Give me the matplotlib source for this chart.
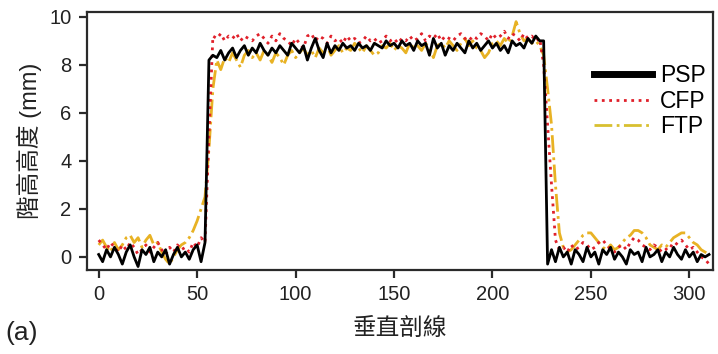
import numpy as np
import matplotlib
matplotlib.use("Agg")
import matplotlib.pyplot as plt
from matplotlib.lines import Line2D

plt.rcParams['font.family'] = ['Liberation Sans', 'Noto Sans CJK TC']

# ===== DATA =====
# sample positions along the vertical profile (every 2 units)
x = np.arange(0, 312, 2)

psp = [
    # 0..54
    0.1, -0.2, 0.3, 0.0, 0.4, 0.1, -0.3, 0.2, 0.5, 0.0,
    -0.4, 0.3, 0.1, 0.4, -0.2, 0.2, 0.0, 0.3, -0.3, 0.1,
    0.4, 0.0, 0.2, -0.1, 0.3, 0.5, -0.2, 0.6,
    # 56..226
    8.2, 8.4, 8.3, 8.6, 8.2, 8.5, 8.7, 8.3, 8.6, 8.8,
    8.4, 8.7, 8.5, 8.9, 8.6, 8.4, 8.7, 8.5, 8.8, 8.6,
    8.4, 8.9, 8.7, 8.5, 8.8, 8.2, 8.7, 9.1, 8.6, 8.3,
    8.9, 8.5, 8.8, 8.6, 8.9, 8.7, 8.8, 8.6, 8.9, 8.7,
    8.8, 8.6, 8.9, 8.8, 8.7, 9.0, 8.8, 8.9, 8.7, 9.0,
    8.8, 8.9, 8.6, 9.0, 8.8, 8.9, 8.4, 9.1, 8.7, 8.9,
    8.4, 8.8, 8.6, 8.9, 8.7, 8.5, 9.0, 8.7, 8.9, 8.6,
    8.8, 9.0, 8.7, 8.9, 8.6, 8.8, 8.5, 9.0, 8.8, 8.9,
    8.7, 9.1, 8.9, 9.2, 9.0, 9.0,
    # 228
    -0.3,
    # 230..310
    0.3, -0.2, 0.4, 0.0, 0.2, -0.3, 0.3, 0.1, -0.2, 0.4,
    0.0, 0.2, -0.3, 0.3, 0.1, 0.4, -0.1, 0.2, 0.0, -0.3,
    0.3, 0.1, 0.2, -0.2, 0.4, 0.0, 0.1, 0.3, -0.2, 0.2,
    0.0, 0.4, 0.1, -0.1, 0.3, 0.0, 0.2, -0.2, 0.1, 0.0,
    0.1,
]

cfp = [
    # 0..54
    0.7, 0.5, 0.3, 0.6, 0.4, 0.2, 0.5, 0.3, 0.6, 0.4,
    0.1, 0.3, 0.5, 0.2, 0.4, 0.6, 0.3, 0.1, 0.4, 0.2,
    0.5, 0.3, 0.4, 0.2, 0.6, 0.4, 0.8, 0.6,
    # 56
    5.0,
    # 58..222
    9.2, 9.1, 9.3, 9.0, 9.2, 9.1, 9.3, 9.0, 9.2, 9.1,
    9.0, 9.2, 9.3, 9.1, 8.9, 9.2, 9.0, 9.3, 9.1, 9.0,
    8.8, 9.1, 8.9, 8.7, 9.2, 9.3, 9.0, 9.2, 9.1, 8.9,
    9.2, 9.0, 9.1, 8.9, 9.2, 9.0, 9.1, 8.9, 9.0, 9.2,
    9.0, 9.1, 8.9, 9.0, 9.2, 9.0, 9.1, 8.9, 9.1, 9.0,
    9.2, 9.0, 9.1, 9.3, 9.0, 9.2, 9.1, 9.3, 9.0, 9.2,
    9.1, 9.0, 9.2, 9.3, 9.1, 9.0, 9.2, 9.1, 9.3, 9.2,
    9.0, 9.3, 9.1, 9.2, 9.4, 9.1, 9.3, 9.2, 9.0, 9.3,
    9.1, 9.2, 9.0,
    # 224..234
    9.1, 8.0, 5.5, 3.0, 0.7, 0.3,
    # 236..310
    0.4, 0.2, 0.5, 0.3, 0.4, 0.6, 0.5, 0.3, 0.4, 0.6,
    0.7, 0.5, 0.3, 0.2, 0.4, 0.5, 0.3, 0.6, 0.8, 0.7,
    0.5, 0.4, 0.3, 0.5, 0.4, 0.2, 0.3, 0.5, 0.4, 0.6,
    0.7, 0.5, 0.3, 0.4, 0.2, 0.0, -0.1, -0.3,
]

ftp = [
    # 0..44
    0.5, 0.7, 0.4, 0.2, 0.6, 0.3, 0.5, 0.8, 0.9, 0.6,
    0.8, 0.4, 0.7, 0.9, 0.5, 0.6, 0.2, -0.1, -0.3, 0.0,
    0.3, 0.5, 0.6,
    # 46..60
    0.8, 1.1, 1.5, 2.0, 2.5, 4.5, 7.0, 8.2,
    # 62..224
    7.8, 8.3, 8.1, 8.5, 8.2, 7.9, 8.4, 8.6, 8.3, 8.5,
    8.2, 8.6, 8.4, 8.1, 8.5, 8.3, 8.0, 8.4, 8.6, 8.3,
    8.5, 8.7, 8.4, 8.6, 8.3, 8.7, 8.5, 8.8, 8.4, 8.6,
    8.8, 8.5, 8.7, 8.6, 8.9, 8.7, 8.5, 8.8, 8.6, 8.4,
    8.5, 8.8, 8.7, 8.9, 8.6, 8.8, 8.7, 8.5, 8.9, 8.7,
    8.8, 8.6, 8.9, 8.7, 8.3, 8.8, 8.9, 8.7, 9.0, 8.8,
    8.6, 8.9, 9.1, 8.8, 9.0, 8.7, 8.6, 8.3, 8.5, 8.9,
    9.0, 8.8, 9.1, 8.9, 9.2, 9.8, 9.3, 9.0, 9.1, 8.9,
    9.0, 8.8,
    # 226..234
    8.4, 7.0, 5.5, 3.0, 1.0,
    # 236..310
    0.4, 0.2, 0.3, 0.5, 0.7, 0.9, 1.0, 1.0, 0.8, 0.6,
    0.4, 0.3, 0.5, 0.3, 0.4, 0.6, 0.8, 0.9, 1.1, 1.1,
    1.0, 0.8, 0.5, 0.4, 0.3, 0.5, 0.4, 0.6, 0.8, 0.9,
    1.0, 1.0, 0.8, 0.6, 0.5, 0.3, 0.2, 0.1,
]

labels = ["PSP", "CFP", "FTP"]
x_ticks = [0, 50, 100, 150, 200, 250, 300]
y_ticks = [0, 2, 4, 6, 8, 10]

assert len(psp) == len(x) and len(cfp) == len(x) and len(ftp) == len(x)

# ===== PLOT =====
fig = plt.figure(figsize=(7.18, 3.54), dpi=100)
ax = fig.add_axes([0.121, 0.237, 0.872, 0.729])

ax.plot(x, ftp, color="#e8b224", lw=2.0, ls="-.", label=labels[2])
ax.plot(x, cfp, color="#e0202a", lw=2.0, ls=":", label=labels[1])
ax.plot(x, psp, color="black", lw=2.0, label=labels[0])

ax.set_xlim(-6, 312)
ax.set_ylim(-0.55, 10.2)
ax.set_xticks(x_ticks)
ax.set_yticks(y_ticks)

for sp in ax.spines.values():
    sp.set_linewidth(1.6)
    sp.set_color("#2a2a2a")
ax.tick_params(direction="out", length=6, width=1.6, color="#2a2a2a",
               labelsize=14.5, labelcolor="#222222", pad=5)

ax.set_xlabel("垂直剖線", fontsize=17, color="#222222", labelpad=10)
ax.set_ylabel("階高高度 (mm)", fontsize=17, color="#222222", labelpad=5)
fig.text(0.007, 0.04, "(a)", fontsize=19, color="#222222")

# legend: thick black handle for PSP
handles = [
    Line2D([], [], color="black", lw=5),
    Line2D([], [], color="#e0202a", lw=2.0, ls=":"),
    Line2D([], [], color="#d8c030", lw=2.0, ls="-."),
]
ax.legend(handles, labels, loc="upper right", bbox_to_anchor=(1.01, 0.85),
          frameon=False, fontsize=16.5, handlelength=2.5, handletextpad=0.35,
          labelspacing=0.1, borderaxespad=0.2)

fig.savefig("out.png", dpi=100)
